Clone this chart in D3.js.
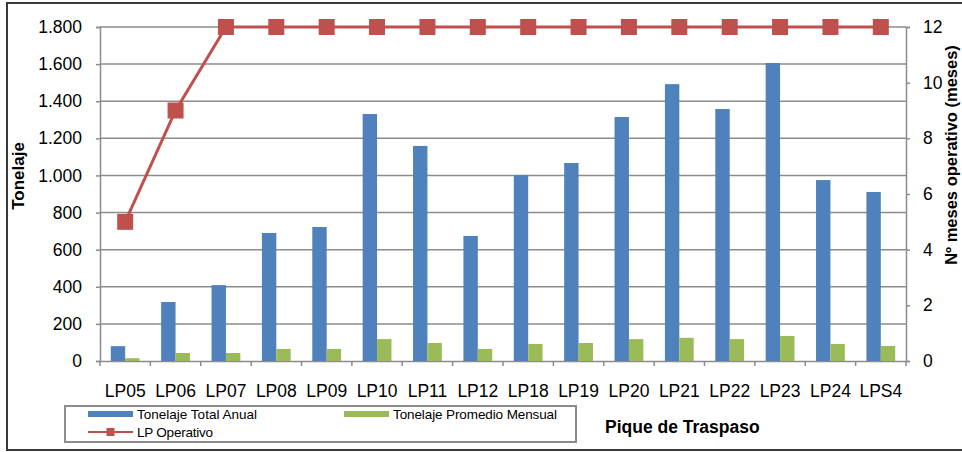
<!DOCTYPE html>
<html>
<head>
<meta charset="utf-8">
<script src="https://cdn.jsdelivr.net/npm/d3@7"></script>
<style>
    body { margin: 0; background: #fff; }
    svg { font-family: "Liberation Sans", Arial, sans-serif; display: block; }
</style>
</head>
<body>
<svg id="chart" width="962" height="452"></svg>
<script>
const categories = ['LP05', 'LP06', 'LP07', 'LP08', 'LP09', 'LP10', 'LP11', 'LP12',
    'LP18', 'LP19', 'LP20', 'LP21', 'LP22', 'LP23', 'LP24', 'LPS4'];
const tonelajeAnual = [80, 318, 409, 690, 722, 1331, 1159, 674, 1002, 1067, 1315, 1492, 1358, 1606, 975, 911];
const tonelajeMensual = [15, 43, 43, 65, 65, 118, 97, 65, 92, 97, 118, 125, 118, 135, 92, 81];
const mesesOperativo = [5, 9, 12, 12, 12, 12, 12, 12, 12, 12, 12, 12, 12, 12, 12, 12];
const leftTicks = [0, 200, 400, 600, 800, 1000, 1200, 1400, 1600, 1800];
const rightTicks = [0, 2, 4, 6, 8, 10, 12];

const colors = {blue: '#4F81BD', green: '#9BBB59', red: '#C0504D', grid: '#8C8C8C'};

const svg = d3.select('#chart');
const svgWidth = +svg.attr('width');

// plot area
const plotLeft = 100, plotRight = 906, plotTop = 27, plotBottom = 361;

// outer frame
svg.append('rect')
    .attr('x', 7).attr('y', 3)
    .attr('width', svgWidth + 5).attr('height', 447)
    .attr('fill', '#fff')
    .attr('stroke', '#3a3a3a')
    .attr('stroke-width', 2);

const x0 = d3.scaleBand().domain(categories).range([plotLeft, plotRight]).padding(0);
const bw = x0.bandwidth();
const series = ['anual', 'mensual'];
const x1 = d3.scaleBand().domain(series).range([bw * 0.75 / 3.5, bw * 2.75 / 3.5]).padding(0);

const yLeft = d3.scaleLinear().domain([0, 1800]).range([plotBottom, plotTop]);
const yRight = d3.scaleLinear().domain([0, 12]).range([plotBottom, plotTop]);

const fmt = d3.formatLocale({decimal: ',', thousands: '.', grouping: [3], currency: ['', '']}).format(',');

// gridlines
svg.append('g')
    .selectAll('line')
    .data(leftTicks.slice(1))
    .enter()
    .append('line')
    .attr('x1', plotLeft).attr('x2', plotRight)
    .attr('y1', (d) => yLeft(d)).attr('y2', (d) => yLeft(d))
    .attr('stroke', colors.grid)
    .attr('stroke-width', 1.5);

// left axis
const yAxisLeft = svg.append('g')
    .attr('transform', `translate(${plotLeft}, 0)`)
    .call(d3.axisLeft(yLeft).tickValues(leftTicks).tickSize(4).tickPadding(14).tickFormat(fmt));

// right axis
const yAxisRight = svg.append('g')
    .attr('transform', `translate(${plotRight}, 0)`)
    .call(d3.axisRight(yRight).tickValues(rightTicks).tickSize(4).tickPadding(13));

// x axis
const xAxis = svg.append('g')
    .attr('transform', `translate(0, ${plotBottom})`)
    .call(d3.axisBottom(x0).tickSize(0).tickPadding(24));

xAxis.selectAll('.tick-mark')
    .data(d3.range(categories.length + 1))
    .enter()
    .append('line')
    .attr('x1', (i) => plotLeft + i * bw).attr('x2', (i) => plotLeft + i * bw)
    .attr('y1', 0).attr('y2', 5)
    .attr('stroke', colors.grid)
    .attr('stroke-width', 1.5);

[yAxisLeft, yAxisRight, xAxis].forEach((g) => {
    g.select('.domain').attr('stroke', colors.grid).attr('stroke-width', 1.5);
    g.selectAll('.tick line').attr('stroke', colors.grid).attr('stroke-width', 1.5);
    g.selectAll('.tick text')
        .attr('fill', '#000')
        .style('font-size', '17.5px')
        .style('font-family', '"Liberation Sans", Arial, sans-serif');
});

// bars
const rows = categories.map((c, i) => ({cat: c, anual: tonelajeAnual[i], mensual: tonelajeMensual[i]}));
const barColor = {anual: colors.blue, mensual: colors.green};

svg.append('g')
    .selectAll('g')
    .data(rows)
    .enter()
    .append('g')
    .attr('transform', (row) => `translate(${x0(row.cat)}, 0)`)
    .selectAll('rect')
    .data((row) => series.map((s) => ({key: s, value: row[s]})))
    .enter()
    .append('rect')
    .attr('x', (d) => x1(d.key))
    .attr('y', (d) => yLeft(d.value))
    .attr('width', x1.bandwidth())
    .attr('height', (d) => plotBottom - yLeft(d.value))
    .attr('fill', (d) => barColor[d.key]);

// LP Operativo line
const lineData = categories.map((c, i) => ({cat: c, value: mesesOperativo[i]}));
const line = d3.line()
    .x((d) => x0(d.cat) + bw / 2)
    .y((d) => yRight(d.value));

svg.append('path')
    .attr('d', line(lineData))
    .attr('fill', 'none')
    .attr('stroke', colors.red)
    .attr('stroke-width', 3);

const sq = 16;
svg.append('g')
    .selectAll('rect')
    .data(lineData)
    .enter()
    .append('rect')
    .attr('x', (d) => x0(d.cat) + bw / 2 - sq / 2)
    .attr('y', (d) => yRight(d.value) - sq / 2)
    .attr('width', sq).attr('height', sq)
    .attr('fill', colors.red);

// axis titles
svg.append('text')
    .attr('transform', `translate(24, 176) rotate(-90)`)
    .attr('text-anchor', 'middle')
    .style('font-size', '17px')
    .style('font-weight', 'bold')
    .text('Tonelaje');

svg.append('text')
    .attr('transform', `translate(957, 155) rotate(-90)`)
    .attr('text-anchor', 'middle')
    .style('font-size', '16.5px')
    .style('font-weight', 'bold')
    .text('Nº meses operativo (meses)');

svg.append('text')
    .attr('x', 605).attr('y', 433)
    .style('font-size', '17.5px')
    .style('font-weight', 'bold')
    .text('Pique de Traspaso');

// legend
const legend = svg.append('g');
legend.append('rect')
    .attr('x', 65).attr('y', 406)
    .attr('width', 511).attr('height', 36)
    .attr('fill', '#fff')
    .attr('stroke', '#8C8C8C')
    .attr('stroke-width', 2);

const legendItems = [
    {label: 'Tonelaje Total Anual', type: 'bar', color: colors.blue, x: 88, y: 414, len: 120},
    {label: 'Tonelaje Promedio Mensual', type: 'bar', color: colors.green, x: 344, y: 414, len: 164},
    {label: 'LP Operativo', type: 'line', color: colors.red, x: 88, y: 432, len: 76}
];

legendItems.forEach((item) => {
    if (item.type === 'bar') {
        legend.append('rect')
            .attr('x', item.x).attr('y', item.y - 3)
            .attr('width', 45).attr('height', 6)
            .attr('fill', item.color);
    } else {
        legend.append('line')
            .attr('x1', item.x).attr('x2', item.x + 45)
            .attr('y1', item.y).attr('y2', item.y)
            .attr('stroke', item.color)
            .attr('stroke-width', 2);
        legend.append('rect')
            .attr('x', item.x + 22.5 - 4).attr('y', item.y - 4)
            .attr('width', 8).attr('height', 8)
            .attr('fill', item.color);
    }
    legend.append('text')
        .attr('x', item.x + 49).attr('y', item.y + 5)
        .attr('textLength', item.len)
        .attr('lengthAdjust', 'spacing')
        .style('font-size', '13.5px')
        .text(item.label);
});
</script>
</body>
</html>
